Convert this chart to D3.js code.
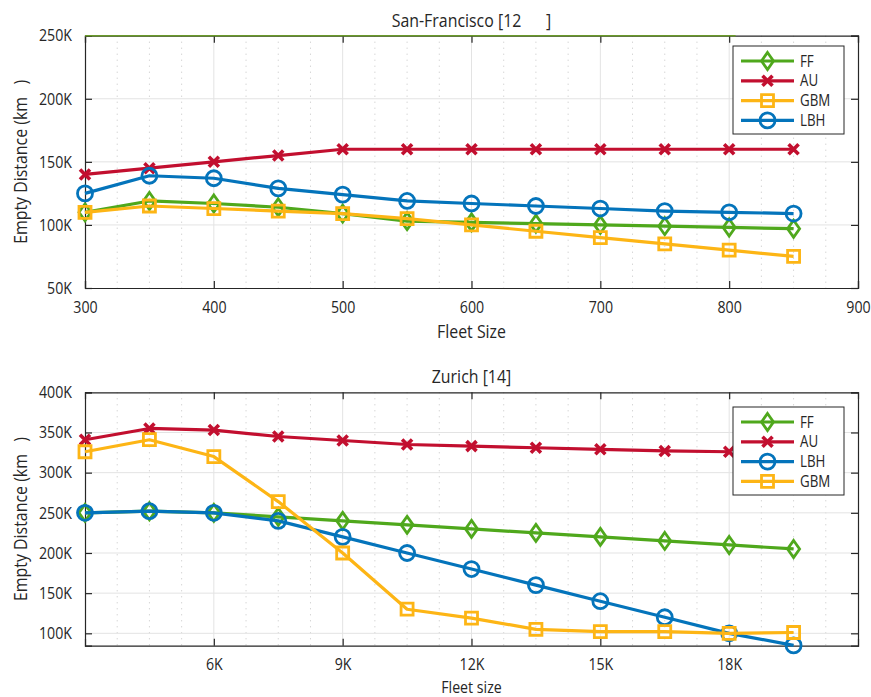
<!DOCTYPE html>
<html><head><meta charset="utf-8">
<script src="https://cdn.jsdelivr.net/npm/d3@7"></script>
<style>
body{margin:0;background:#fff;}
text{font-family:"Open Sans","Noto Sans",sans-serif;fill:#262626;white-space:pre;}
</style></head>
<body><svg id="c" width="871" height="697"></svg>
<script>
// ---- Data: San-Francisco ----
const sfFleet = [300,350,400,450,500,550,600,650,700,750,800,850];
const sfFF  = [110000,119000,117000,114000,109000,103000,102000,101000,100000,99000,98000,97000];
const sfAU  = [140000,145000,150000,155000,160000,160000,160000,160000,160000,160000,160000,160000];
const sfGBM = [110000,115000,113000,111000,109000,105000,100000,95000,90000,85000,80000,75000];
const sfLBH = [125000,139000,137000,129000,124000,119000,117000,115000,113000,111000,110000,109000];
const sfXTicks = [300,400,500,600,700,800,900];
const sfYTicks = [50000,100000,150000,200000,250000];

// ---- Data: Zurich ----
const zhFleet = [3000,4500,6000,7500,9000,10500,12000,13500,15000,16500,18000,19500];
const zhFF  = [250000,252000,250000,245000,240000,235000,230000,225000,220000,215000,210000,205000];
const zhAU  = [341000,355000,353000,345000,340000,335000,333000,331000,329000,327000,326000];
const zhLBH = [250000,252000,250000,240000,220000,200000,180000,160000,140000,120000,100000,85000];
const zhGBM = [326000,341000,320000,264000,200000,130000,119000,105000,102000,102000,100000,101000];
const zhXTicks = [6000,9000,12000,15000,18000];
const zhYTicks = [100000,150000,200000,250000,300000,350000,400000];

const C = {FF:"#4fa81c", AU:"#c20f2f", GBM:"#fdb515", LBH:"#0474bb"};
const svg = d3.select("#c");
const fmtK = d => (d/1000) + "K";
const SX = 0.86; // horizontal condensing to mimic the narrow original face

function markerPath(type){
  switch(type){
    case "FF": return "M0,-8.5L6,0L0,8.5L-6,0Z";
    case "AU": return "M-5,-5L5,5M-5,5L5,-5";
    case "GBM": return "M-6,-6H6V6H-6Z";
    case "LBH": return d3.arc()({innerRadius:0,outerRadius:7.5,startAngle:0,endAngle:2*Math.PI});
  }
}

function ctext(parent, x, y, str, size, anchor, fill, rot){
  return parent.append("text")
    .attr("transform",`translate(${x},${y})${rot?` rotate(${rot})`:""} scale(${SX},1)`)
    .attr("text-anchor",anchor).attr("font-size",size).attr("fill",fill).text(str);
}

function panel(o){
  const {x0,x1,y0,y1,xDom,yDom,xTicks,yTicks,xMinorStep,xFmt,series,title,xlabel,legend,legendY} = o;
  const x = d3.scaleLinear().domain(xDom).range([x0,x1]);
  const y = d3.scaleLinear().domain(yDom).range([y1,y0]);
  const g = svg.append("g");
  const majorX = o.xMajorGrid;
  const minor = d3.range(xDom[0]+xMinorStep, xDom[1]-1e-9, xMinorStep).filter(v=>!majorX.includes(v));
  g.selectAll(".mn").data(minor).join("line")
    .attr("x1",d=>x(d)).attr("x2",d=>x(d)).attr("y1",y0).attr("y2",y1)
    .attr("stroke","#c4c4c4").attr("stroke-width",1).attr("stroke-dasharray","1,5");
  g.selectAll(".mjx").data(majorX.filter(v=>v>xDom[0]&&v<xDom[1])).join("line")
    .attr("x1",d=>x(d)).attr("x2",d=>x(d)).attr("y1",y0).attr("y2",y1)
    .attr("stroke","#e3e3e3").attr("stroke-width",1);
  g.selectAll(".mjy").data(yTicks.filter(v=>v>yDom[0]&&v<yDom[1])).join("line")
    .attr("x1",x0).attr("x2",x1).attr("y1",d=>y(d)).attr("y2",d=>y(d))
    .attr("stroke","#e3e3e3").attr("stroke-width",1);

  const tl = 7;
  const axB = d3.axisBottom(x).tickValues(xTicks).tickSize(-tl).tickPadding(tl+6).tickFormat(xFmt);
  const axL = d3.axisLeft(y).tickValues(yTicks).tickSize(-tl).tickPadding(tl+6).tickFormat(fmtK);
  const axT = d3.axisTop(x).tickValues(xTicks).tickSize(-tl).tickFormat("");
  const axR = d3.axisRight(y).tickValues(yTicks).tickSize(-tl).tickFormat("");
  [[axB,`translate(0,${y1})`,"b"],[axL,`translate(${x0},0)`,"l"],[axT,`translate(0,${y0})`,"t"],[axR,`translate(${x1},0)`,"r"]].forEach(([a,t,k])=>{
    const ag = g.append("g").attr("transform",t).call(a);
    ag.select(".domain").attr("stroke","#262626").attr("stroke-width",1.2);
    ag.selectAll(".tick line").attr("stroke","#262626").attr("stroke-width",1.2);
    const tt = ag.selectAll(".tick text").attr("font-size",16.5).attr("fill","#404040").attr("font-family",'"Open Sans",sans-serif');
    if(k==="b") tt.attr("transform",`scale(${SX},1)`);
    if(k==="l") tt.each(function(){ const xx=+d3.select(this).attr("x"); d3.select(this).attr("x",xx/SX).attr("transform",`scale(${SX},1)`); });
  });
  if(o.topGreen){
    g.append("line").attr("x1",x0).attr("x2",x(o.topGreen)).attr("y1",y0).attr("y2",y0)
      .attr("stroke","#6a9a2a").attr("stroke-width",1.5);
  }

  const line = d3.line().x(d=>x(d[0])).y(d=>y(d[1]));
  series.forEach(s=>{
    const pts = s.vals.map((v,i)=>[s.xs[i],v]);
    const sg = g.append("g");
    sg.append("path").attr("d",line(pts)).attr("fill","none").attr("stroke",C[s.name]).attr("stroke-width",3.2).attr("stroke-linejoin","round");
    sg.selectAll("path.m").data(pts).join("path").attr("class","m")
      .attr("transform",d=>`translate(${x(d[0])},${y(d[1])})`)
      .attr("d",markerPath(s.name)).attr("fill","none").attr("stroke",C[s.name])
      .attr("stroke-width",s.name==="AU"?3.6:2.8);
  });

  ctext(svg,(x0+x1)/2,y0-9,title,18.5,"middle","#1a1a1a");
  ctext(svg,(x0+x1)/2,o.xlabelY,xlabel,o.xlabelSize,"middle","#404040");
  ctext(svg,27,(y0+y1)/2,"Empty Distance (km   )",18.5,"middle","#404040",-90);

  const lx = 733, lw = 111, lh = 88;
  const lg = svg.append("g");
  lg.append("rect").attr("x",lx).attr("y",legendY).attr("width",lw).attr("height",lh)
    .attr("fill","#fff").attr("stroke","#262626").attr("stroke-width",1);
  legend.forEach((nm,i)=>{
    const cy = legendY + 15 + i*19.8;
    lg.append("line").attr("x1",lx+8).attr("x2",lx+61).attr("y1",cy).attr("y2",cy)
      .attr("stroke",C[nm]).attr("stroke-width",3.2);
    lg.append("path").attr("transform",`translate(${lx+34.5},${cy})`).attr("d",markerPath(nm))
      .attr("fill","none").attr("stroke",C[nm]).attr("stroke-width",nm==="AU"?3.6:2.8);
    ctext(lg,lx+67,cy+5.5,nm,15.5,"start","#262626");
  });
}

panel({
  x0:85,x1:858,y0:35.7,y1:288,xDom:[300,900],yDom:[50000,250000],
  xTicks:sfXTicks,yTicks:sfYTicks,xMinorStep:25,xMajorGrid:sfXTicks,xFmt:d=>d,
  series:[
    {name:"FF",xs:sfFleet,vals:sfFF},
    {name:"AU",xs:sfFleet,vals:sfAU},
    {name:"GBM",xs:sfFleet,vals:sfGBM},
    {name:"LBH",xs:sfFleet,vals:sfLBH}],
  title:"San-Francisco [12      ]",xlabel:"Fleet Size",xlabelY:338,xlabelSize:18.5,
  legend:["FF","AU","GBM","LBH"],legendY:46,topGreen:805
});
panel({
  x0:85,x1:858,y0:392.3,y1:645.7,xDom:[3000,21000],yDom:[84600,400000],
  xTicks:zhXTicks,yTicks:zhYTicks,xMinorStep:750,xMajorGrid:zhXTicks,xFmt:fmtK,
  series:[
    {name:"FF",xs:zhFleet,vals:zhFF},
    {name:"AU",xs:zhFleet,vals:zhAU},
    {name:"LBH",xs:zhFleet,vals:zhLBH},
    {name:"GBM",xs:zhFleet,vals:zhGBM}],
  title:"Zurich [14]",xlabel:"Fleet size",xlabelY:692.5,xlabelSize:16.5,
  legend:["FF","AU","LBH","GBM"],legendY:407
});
</script></body></html>
